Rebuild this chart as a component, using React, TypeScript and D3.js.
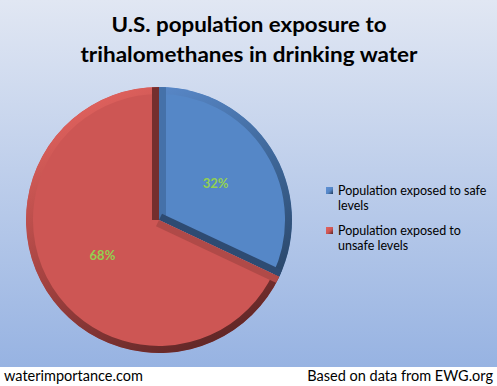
import React from 'react';
import * as d3 from 'd3';

const titleLines = ['U.S. population exposure to', 'trihalomethanes in drinking water'];
const categories = ['Population exposed to safe levels', 'Population exposed to unsafe levels'];
const legendLines = [
  ['Population exposed to safe', 'levels'],
  ['Population exposed to', 'unsafe levels'],
];
const values = [32, 68];
const footerLeft = 'waterimportance.com';
const footerRight = 'Based on data from EWG.org';

const W = 497;
const H = 386;
const cx = 159;
const cy = 220;
const r = 133;
const bevel = 7;

const sliceStyles = [
  { fill: '#5587c7', startEdge: '#4571a9', endEdge: '#2e4b72', rim: ['#5f90d4', '#3d6596', '#223a58'] },
  { fill: '#cd5654', startEdge: '#b04a48', endEdge: '#742e2e', rim: ['#e3635f', '#a54341', '#5a2424'] },
];

export default function App() {
  const pie = d3.pie<number>().sort(null).value((d) => d);
  const arcs = pie(values);
  const arc = d3.arc<d3.PieArcDatum<number>>().innerRadius(0).outerRadius(r);
  const rimArc = d3.arc<d3.PieArcDatum<number>>().innerRadius(r).outerRadius(r);
  const labelArc = d3.arc<d3.PieArcDatum<number>>().innerRadius(134).outerRadius(0);
  const total = d3.sum(values);

  const edgePoint = (a: number) => [cx + r * Math.sin(a), cy - r * Math.cos(a)];

  return (
    <svg width={W} height={H} style={{ position: 'fixed', left: 0, top: 0, display: 'block' }}>
      <defs>
        <linearGradient id="bg" x1="0" y1="0" x2="0" y2="1">
          <stop offset="0" stopColor="#e1e7f3" />
          <stop offset="1" stopColor="#97b3e2" />
        </linearGradient>
        {sliceStyles.map((s, i) => (
          <linearGradient
            key={i}
            id={`rim${i}`}
            gradientUnits="userSpaceOnUse"
            x1={-r * 0.5}
            y1={-r}
            x2={r * 0.5}
            y2={r}
          >
            <stop offset="0" stopColor={s.rim[0]} />
            <stop offset="0.5" stopColor={s.rim[1]} />
            <stop offset="1" stopColor={s.rim[2]} />
          </linearGradient>
        ))}
        {arcs.map((a, i) => (
          <clipPath key={i} id={`clip${i}`}>
            <path d={arc(a) || ''} transform={`translate(${cx},${cy})`} />
          </clipPath>
        ))}
        {sliceStyles.map((s, i) => (
          <linearGradient key={`lg${i}`} id={`leg${i}`} x1="0" y1="0" x2="1" y2="1">
            <stop offset="0" stopColor={s.rim[0]} />
            <stop offset="0.55" stopColor={s.fill} />
            <stop offset="1" stopColor={s.rim[2]} />
          </linearGradient>
        ))}
      </defs>

      <rect x={0} y={0} width={W} height={367} fill="url(#bg)" />
      <rect x={0} y={367} width={W} height={H - 367} fill="#ffffff" />

      <g fontFamily="Lato, 'Open Sans', sans-serif" fontWeight="bold" fontSize={21} fill="#000" textAnchor="middle">
        <text x={249} y={32} textLength={275} lengthAdjust="spacingAndGlyphs">{titleLines[0]}</text>
        <text x={249} y={62} textLength={337} lengthAdjust="spacingAndGlyphs">{titleLines[1]}</text>
      </g>

      {arcs.map((a, i) => {
        const s = sliceStyles[i];
        const [sx, sy] = edgePoint(a.startAngle);
        const [ex, ey] = edgePoint(a.endAngle);
        return (
          <g key={i} clipPath={`url(#clip${i})`}>
            <path d={arc(a) || ''} transform={`translate(${cx},${cy})`} fill={s.fill} />
            <path
              d={rimArc(a) || ''}
              transform={`translate(${cx},${cy})`}
              fill="none"
              stroke={`url(#rim${i})`}
              strokeWidth={bevel * 2}
            />
            <line x1={cx} y1={cy} x2={sx} y2={sy} stroke={s.startEdge} strokeWidth={bevel * 2} />
            <line x1={cx} y1={cy} x2={ex} y2={ey} stroke={s.endEdge} strokeWidth={bevel * 2} />
          </g>
        );
      })}

      {arcs.map((a, i) => {
        const [lx, ly] = labelArc.centroid(a);
        return (
          <text
            key={i}
            x={cx + lx}
            y={cy + ly + 4}
            textAnchor="middle"
            fontFamily="Lato, 'Open Sans', sans-serif"
            fontWeight="bold"
            fontSize={13}
            fill="#92d050"
          >
            {`${Math.round((values[i] / total) * 100)}%`}
          </text>
        );
      })}

      <g fontFamily="Lato, 'Open Sans', sans-serif" fontSize={12.5} fill="#000">
        {categories.map((c, i) => (
          <g key={c} transform={`translate(0,${i * 40})`}>
            <rect x={326} y={187} width={7} height={7} fill={`url(#leg${i})`} />
            <text x={338} y={195}>{legendLines[i][0]}</text>
            <text x={338} y={210}>{legendLines[i][1]}</text>
          </g>
        ))}
      </g>

      <g fontFamily="Lato, 'Open Sans', sans-serif" fontSize={14.5} fill="#000">
        <text x={4} y={381}>{footerLeft}</text>
        <text x={493} y={381} textAnchor="end">{footerRight}</text>
      </g>
    </svg>
  );
}
